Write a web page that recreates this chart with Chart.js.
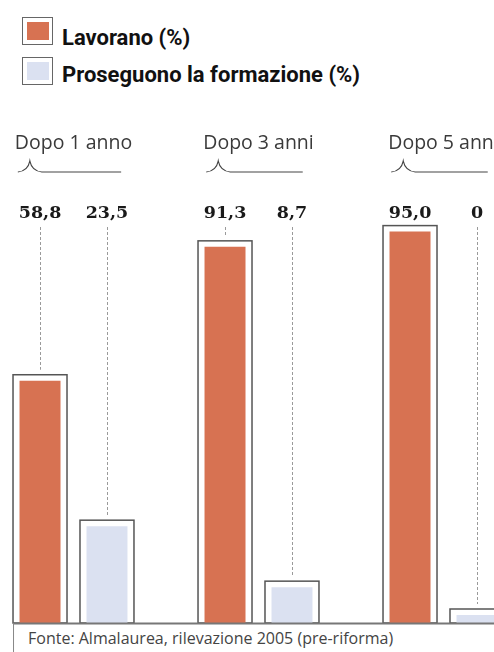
<!DOCTYPE html>
<html>
<head>
<meta charset="utf-8">
<script src="https://cdn.jsdelivr.net/npm/chart.js@4"></script>
<style>
  html, body { margin: 0; padding: 0; background: #fff; }
  body { width: 494px; height: 652px; position: relative; overflow: hidden; }
  #chart { position: absolute; left: -19px; top: 0; }
  .key-frame { position: absolute; width: 29px; height: 26px; border: 1.5px solid #666; }
  .key-fill  { position: absolute; width: 22px; height: 18px; }
  .key-text  { position: absolute; left: 62px; font: 700 22px Roboto, sans-serif; line-height: 22px; color: #111; white-space: nowrap; }
  #source { position: absolute; left: 28px; top: 630px; font: 16px "Open Sans", sans-serif; line-height: 16px; color: #444; white-space: nowrap; }
</style>
</head>
<body>
<div class="key-frame" style="left:22px;top:17px"></div>
<div class="key-fill" id="keyFill1" style="left:27px;top:22px"></div>
<div class="key-text" style="top:27px">Lavorano (%)</div>
<div class="key-frame" style="left:22px;top:57px"></div>
<div class="key-fill" id="keyFill2" style="left:27px;top:62px"></div>
<div class="key-text" style="top:64px">Proseguono la formazione (%)</div>
<div id="source">Fonte: Almalaurea, rilevazione 2005 (pre-riforma)</div>
<canvas id="chart" width="555" height="652"></canvas>
<script>
/* Lavorano / proseguono la formazione dopo la laurea */

const periods     = ["Dopo 1 anno", "Dopo 3 anni", "Dopo 5 anni"];
const lavorano    = [58.8, 91.3, 95.0];
const proseguono  = [23.5, 8.7, 0];
const seriesNames = ["Lavorano (%)", "Proseguono la formazione (%)"];

const ORANGE = "#d77252";
const BLUE   = "#dbe1f1";
const FRAME  = "#555";

document.getElementById("keyFill1").style.background = ORANGE;
document.getElementById("keyFill2").style.background = BLUE;

const fmt = v => v === 0 ? "0" : v.toFixed(1).replace(".", ",");

// frames round each bar, baseline, leader lines, value and period labels
const decorations = {
  id: "decorations",
  beforeDatasetsDraw(chart) {
    const ctx = chart.ctx;
    ctx.save();
    ctx.strokeStyle = FRAME;
    ctx.lineWidth = 1.5;
    chart.data.datasets.forEach((ds, di) => {
      chart.getDatasetMeta(di).data.forEach(bar => {
        const half = bar.width / 2 + 6.5;
        ctx.strokeRect(bar.x - half, bar.y - 6, half * 2, bar.base - bar.y + 6);
      });
    });
    ctx.restore();
  },
  afterDatasetsDraw(chart) {
    const ctx  = chart.ctx;
    const area = chart.chartArea;
    const x    = chart.scales.x;
    ctx.save();

    // baseline + source rule
    const first = chart.getDatasetMeta(0).data[0];
    const left  = first.x - first.width / 2 - 6.5;
    ctx.strokeStyle = "#777";
    ctx.lineWidth = 2;
    ctx.beginPath();
    ctx.moveTo(left, area.bottom + 0.5);
    ctx.lineTo(chart.width, area.bottom + 0.5);
    ctx.stroke();
    ctx.lineWidth = 1;
    ctx.strokeStyle = "#888";
    ctx.beginPath();
    ctx.moveTo(left + 0.5, area.bottom);
    ctx.lineTo(left + 0.5, chart.height);
    ctx.stroke();

    // value labels and dashed leaders
    const labelY = area.top + 7;
    chart.data.datasets.forEach((ds, di) => {
      chart.getDatasetMeta(di).data.forEach((bar, i) => {
        const top = bar.y - 11;
        if (top > labelY + 9) {
          ctx.strokeStyle = "#9a9a9a";
          ctx.lineWidth = 1;
          ctx.setLineDash([3, 2]);
          ctx.beginPath();
          ctx.moveTo(Math.round(bar.x) + 0.5, labelY + 9);
          ctx.lineTo(Math.round(bar.x) + 0.5, top);
          ctx.stroke();
          ctx.setLineDash([]);
        }
        ctx.fillStyle = "#1a1a1a";
        ctx.font = "bold 17.5px 'DejaVu Serif', serif";
        ctx.textAlign = "center";
        ctx.textBaseline = "alphabetic";
        ctx.fillText(fmt(ds.data[i]), bar.x, labelY);
      });
    });

    // period labels with little brace
    ctx.font = "19.5px 'Open Sans', sans-serif";
    ctx.fillStyle = "#3a3a3a";
    ctx.strokeStyle = "#444";
    ctx.lineWidth = 1.2;
    periods.forEach((p, i) => {
      const cx = x.getPixelForValue(i);
      const w  = ctx.measureText(p).width;
      ctx.textAlign = "center";
      ctx.textBaseline = "middle";
      ctx.fillText(p, cx, 143);
      const l  = cx - w / 2 + 3;
      const r  = cx + w / 2 - 11;
      const px = l + 12;
      ctx.beginPath();
      ctx.moveTo(l, 172);
      ctx.quadraticCurveTo(px - 2, 171, px, 161);
      ctx.quadraticCurveTo(px + 2, 171, px + 12, 172);
      ctx.lineTo(r, 172);
      ctx.stroke();
    });
    ctx.restore();
  },
};

new Chart(document.getElementById("chart"), {
  type: "bar",
  data: {
    labels: periods,
    datasets: [
      { label: seriesNames[0], data: lavorano,   backgroundColor: ORANGE },
      { label: seriesNames[1], data: proseguono, backgroundColor: BLUE, minBarLength: 8 },
    ],
  },
  options: {
    responsive: false,
    animation: false,
    devicePixelRatio: 1,
    categoryPercentage: 0.724,
    barPercentage: 0.612,
    layout: { padding: { top: 211, bottom: 29, left: 0, right: 0 } },
    plugins: { legend: { display: false }, tooltip: { enabled: false } },
    scales: {
      x: { display: false },
      y: { display: false, min: 0, max: 100 },
    },
  },
  plugins: [decorations],
});
</script>
</body>
</html>
